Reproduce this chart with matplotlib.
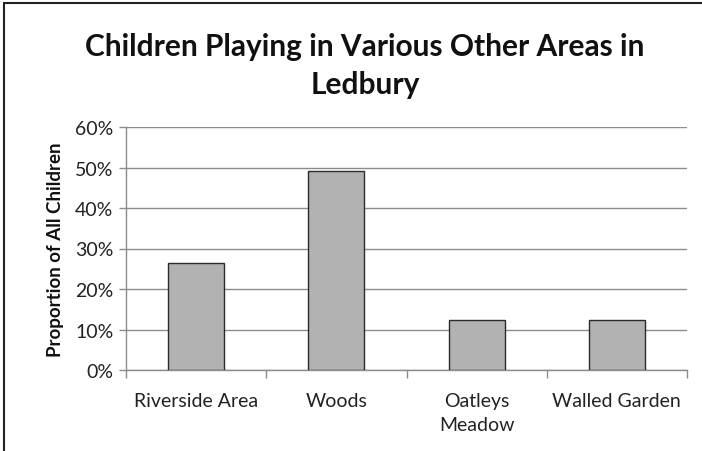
import matplotlib
matplotlib.use("Agg")
import matplotlib.pyplot as plt
from matplotlib.patches import Rectangle
from matplotlib.ticker import FuncFormatter, FixedLocator

categories = ["Riverside Area", "Woods", "Oatleys\nMeadow", "Walled Garden"]
values = [26.3, 49.1, 12.3, 12.3]
yticks = [0, 10, 20, 30, 40, 50, 60]

plt.rcParams['font.family'] = ['Lato', 'DejaVu Sans']

fig = plt.figure(figsize=(7.02, 4.52), dpi=100)
ax = fig.add_axes([126/702, 1-371/452, (687-126)/702, (371-128)/452])

x = list(range(len(categories)))
ax.bar(x, values, width=0.4, color="#b2b2b2", edgecolor="#2a2a2a", linewidth=1.0, zorder=3)

ax.set_xlim(-0.5, len(categories) - 0.5)
ax.set_ylim(0, 60)
ax.set_yticks(yticks)
ax.yaxis.set_major_formatter(FuncFormatter(lambda v, p: f"{int(v)}%"))
ax.grid(axis="y", color="#8c8c8c", linewidth=1.0, zorder=0)

ax.set_xticks(x)
ax.set_xticklabels(categories, fontsize=14, color="#222222", linespacing=1.5)
ax.tick_params(axis="x", length=0, pad=16)
ax.xaxis.set_minor_locator(FixedLocator([i - 0.5 for i in range(len(categories) + 1)]))
ax.tick_params(axis="x", which="minor", length=6, color="#8c8c8c", width=1)
ax.tick_params(axis="y", labelsize=14, labelcolor="#222222", length=5, color="#8c8c8c", width=1, pad=4)

for s in ["top", "right"]:
    ax.spines[s].set_visible(False)
for s in ["left", "bottom"]:
    ax.spines[s].set_color("#8c8c8c")
    ax.spines[s].set_linewidth(1.0)

ax.set_ylabel("Proportion of All Children", fontsize=13.5, fontweight="bold", labelpad=8, color="#111111")

fig.text(365/702, 1-66/452, "Children Playing in Various Other Areas in\nLedbury",
         ha="center", va="center", fontsize=21.5, fontweight="bold", linespacing=1.45, color="#111111")

fig.patches.append(Rectangle((4/702, -0.01), 1.0, 1 - 4/452 + 0.01, transform=fig.transFigure,
                             fill=False, edgecolor="#222222", linewidth=1.5))

fig.savefig("out.png", dpi=100)
